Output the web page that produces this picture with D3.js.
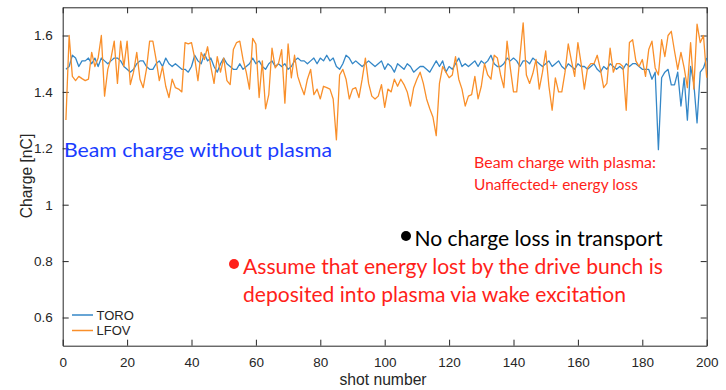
<!DOCTYPE html>
<html>
<head>
<meta charset="utf-8">
<script src="https://cdn.jsdelivr.net/npm/d3@7"></script>
<style>
  html, body { margin: 0; padding: 0; background: #ffffff; }
  svg { display: block; }
</style>
</head>
<body>
<svg id="chart" width="726" height="390"></svg>
<script>
// ---- data ----
const shots = d3.range(1, 201);
const toro = [
  1.48,1.49,1.53,1.52,1.49,1.51,1.51,1.52,1.50,1.52,
  1.49,1.52,1.51,1.50,1.51,1.52,1.52,1.51,1.49,1.48,
  1.47,1.48,1.50,1.51,1.51,1.49,1.48,1.48,1.50,1.51,
  1.49,1.52,1.50,1.49,1.50,1.49,1.48,1.48,1.47,1.49,
  1.53,1.51,1.50,1.535,1.51,1.52,1.49,1.47,1.50,1.52,
  1.50,1.49,1.48,1.48,1.50,1.48,1.49,1.50,1.52,1.50,
  1.51,1.49,1.48,1.50,1.51,1.49,1.50,1.49,1.50,1.48,
  1.49,1.51,1.52,1.51,1.51,1.50,1.51,1.52,1.50,1.52,
  1.51,1.53,1.51,1.52,1.49,1.48,1.50,1.53,1.52,1.50,
  1.51,1.50,1.49,1.50,1.51,1.50,1.49,1.50,1.51,1.48,
  1.50,1.49,1.47,1.50,1.49,1.48,1.50,1.49,1.47,1.48,
  1.49,1.49,1.48,1.47,1.49,1.51,1.49,1.51,1.47,1.49,
  1.48,1.50,1.52,1.49,1.50,1.49,1.50,1.51,1.49,1.51,
  1.50,1.51,1.53,1.50,1.49,1.49,1.50,1.52,1.51,1.52,
  1.51,1.49,1.51,1.51,1.50,1.52,1.51,1.50,1.49,1.50,
  1.51,1.49,1.50,1.51,1.49,1.48,1.50,1.49,1.48,1.50,
  1.49,1.49,1.48,1.49,1.50,1.48,1.47,1.49,1.48,1.50,
  1.49,1.48,1.49,1.48,1.50,1.49,1.50,1.50,1.49,1.48,
  1.48,1.48,1.445,1.47,1.195,1.45,1.47,1.48,1.425,1.425,
  1.47,1.35,1.45,1.30,1.49,1.43,1.29,1.47,1.485,1.52
];
const lfov = [
  1.30,1.60,1.455,1.44,1.455,1.447,1.44,1.445,1.54,1.49,
  1.52,1.60,1.385,1.48,1.52,1.58,1.43,1.58,1.49,1.58,
  1.426,1.47,1.54,1.445,1.415,1.48,1.58,1.58,1.515,1.44,
  1.49,1.42,1.38,1.445,1.415,1.41,1.40,1.575,1.57,1.575,
  1.52,1.44,1.54,1.515,1.56,1.49,1.43,1.525,1.47,1.52,
  1.44,1.426,1.55,1.575,1.58,1.515,1.47,1.41,1.59,1.57,
  1.38,1.51,1.34,1.39,1.555,1.485,1.50,1.55,1.36,1.57,
  1.45,1.53,1.455,1.42,1.39,1.445,1.48,1.39,1.41,1.375,
  1.42,1.415,1.41,1.375,1.23,1.46,1.48,1.445,1.375,1.41,
  1.415,1.38,1.445,1.52,1.43,1.385,1.375,1.385,1.426,1.345,
  1.41,1.40,1.445,1.42,1.445,1.426,1.40,1.35,1.415,1.445,
  1.47,1.43,1.375,1.34,1.31,1.245,1.43,1.49,1.47,1.45,
  1.46,1.525,1.445,1.41,1.35,1.385,1.39,1.455,1.375,1.42,
  1.50,1.46,1.445,1.53,1.52,1.46,1.415,1.58,1.485,1.40,
  1.40,1.525,1.645,1.46,1.43,1.465,1.515,1.41,1.47,1.545,
  1.42,1.335,1.45,1.40,1.40,1.47,1.57,1.51,1.455,1.575,
  1.50,1.41,1.485,1.50,1.50,1.53,1.48,1.415,1.43,1.555,
  1.47,1.50,1.50,1.49,1.335,1.575,1.585,1.51,1.49,1.515,
  1.455,1.55,1.58,1.485,1.46,1.585,1.525,1.60,1.615,1.545,
  1.48,1.54,1.485,1.415,1.575,1.41,1.64,1.575,1.60,1.45
];
const seriesNames = ["TORO", "LFOV"];
const xTicks = [0, 20, 40, 60, 80, 100, 120, 140, 160, 180, 200];
const yTicks = [0.6, 0.8, 1, 1.2, 1.4, 1.6];
const xDomain = [0, 200];
const yDomain = [0.5, 1.7];

// ---- layout ----
const W = 726, H = 390;
const plot = { left: 62.7, right: 706.7, top: 7.3, bottom: 345.7 };
const colors = { TORO: "#3487c7", LFOV: "#f98f2a" };
const axisColor = "#262626";

const svg = d3.select("#chart");
svg.append("rect").attr("width", W).attr("height", H).attr("fill", "#ffffff");

const x = d3.scaleLinear().domain(xDomain).range([plot.left, plot.right]);
const y = d3.scaleLinear().domain(yDomain).range([plot.bottom, plot.top]);

const tickFont = "'Liberation Sans', Arial, Helvetica, sans-serif";
const fmt = d3.format("~g");

// axes (MATLAB-style box with inward ticks)
const gB = svg.append("g").attr("transform", `translate(0,${plot.bottom})`)
  .call(d3.axisBottom(x).tickValues(xTicks).tickFormat(fmt).tickSizeInner(-6).tickSizeOuter(0).tickPadding(12));
const gT = svg.append("g").attr("transform", `translate(0,${plot.top})`)
  .call(d3.axisTop(x).tickValues(xTicks).tickFormat("").tickSizeInner(-6).tickSizeOuter(0));
const gL = svg.append("g").attr("transform", `translate(${plot.left},0)`)
  .call(d3.axisLeft(y).tickValues(yTicks).tickFormat(fmt).tickSizeInner(-6).tickSizeOuter(0).tickPadding(10));
const gR = svg.append("g").attr("transform", `translate(${plot.right},0)`)
  .call(d3.axisRight(y).tickValues(yTicks).tickFormat("").tickSizeInner(-6).tickSizeOuter(0));

[gB, gT, gL, gR].forEach(g => {
  g.select(".domain").attr("stroke", axisColor).attr("stroke-width", 1);
  g.selectAll(".tick line").attr("stroke", axisColor).attr("stroke-width", 1);
  g.selectAll(".tick text").attr("fill", axisColor)
    .style("font-family", tickFont).style("font-size", "13.5px");
});

// lines
const line = d3.line().x((d, i) => x(shots[i])).y(d => y(d));
const dataBy = { TORO: toro, LFOV: lfov };
seriesNames.forEach(name => {
  svg.append("path")
    .datum(dataBy[name])
    .attr("fill", "none")
    .attr("stroke", colors[name])
    .attr("stroke-width", 1.3)
    .attr("stroke-linejoin", "round")
    .attr("d", line);
});

// axis labels
svg.append("text")
  .attr("x", 383)
  .attr("y", 384.5)
  .attr("text-anchor", "middle")
  .attr("fill", axisColor)
  .style("font-family", tickFont).style("font-size", "15.7px")
  .text("shot number");

svg.append("text")
  .attr("transform", `translate(32,176) rotate(-90)`)
  .attr("text-anchor", "middle")
  .attr("fill", axisColor)
  .style("font-family", tickFont).style("font-size", "15.7px")
  .text("Charge [nC]");

// legend
const leg = svg.append("g");
seriesNames.forEach((name, i) => {
  const ly = 315 + i * 15.5;
  leg.append("line").attr("x1", 72).attr("x2", 93).attr("y1", ly).attr("y2", ly)
    .attr("stroke", colors[name]).attr("stroke-width", 1.5);
  leg.append("text").attr("x", 96.5).attr("y", ly + 4.8)
    .attr("fill", axisColor)
    .style("font-family", tickFont).style("font-size", "13px")
    .text(name);
});

// annotations
const annFont = "Lato, 'Open Sans', sans-serif";
function ann(txt, x0, yb, size, color, len) {
  svg.append("text").attr("x", x0).attr("y", yb)
    .attr("fill", color)
    .style("font-family", annFont).style("font-size", size + "px")
    .attr("textLength", len).attr("lengthAdjust", "spacingAndGlyphs")
    .text(txt);
}
ann("Beam charge without plasma", 64, 157, 20, "#1a3cff", 268);
ann("Beam charge with plasma:", 474, 167.5, 15.5, "#ff1f1a", 182);
ann("Unaffected+ energy loss", 474, 189.5, 15.5, "#ff1f1a", 164);
svg.append("circle").attr("cx", 406).attr("cy", 236).attr("r", 5).attr("fill", "#000000");
ann("No charge loss in transport", 414.5, 246, 20.5, "#000000", 248);
svg.append("circle").attr("cx", 234).attr("cy", 264).attr("r", 5).attr("fill", "#ff1f1a");
ann("Assume that energy lost by the drive bunch is", 243, 274, 20.5, "#ff1f1a", 420);
ann("deposited into plasma via wake excitation", 243, 301.5, 20.5, "#ff1f1a", 383);
</script>
</body>
</html>
